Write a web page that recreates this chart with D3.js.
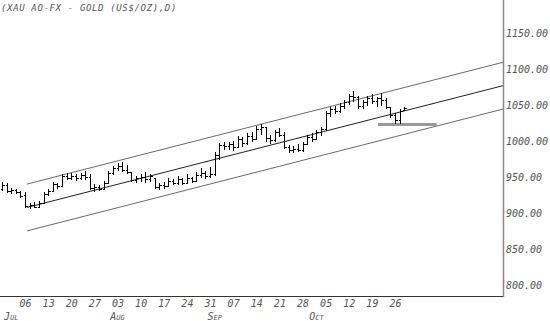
<!DOCTYPE html>
<html><head><meta charset="utf-8">
<script src="https://cdn.jsdelivr.net/npm/d3@7"></script>
<style>
html,body{margin:0;padding:0;background:#fff;}
svg{display:block;}
text{font-family:"DejaVu Sans Mono",monospace;font-style:italic;fill:#555;}
</style></head>
<body>
<script>
// ---- data (trading-day index 0 = 29 Jun 2009) ----
const highs  = [944,942,936,935,932,930,915,916,917,930,935,944,943,955,957,956,955,957,959,955,941,940,945,960,966,970,972,968,958,952,955,958,955,950,942,944,950,948,953,949,955,951,958,963,960,965,986,998,1000,999,1001,1008,1007,1012,1013,1022,1025,1021,1009,1016,1019,1013,996,994,997,999,1010,1012,1016,1020,1043,1048,1050,1054,1058,1066,1070,1063,1058,1064,1066,1062,1067,1061,1047,1040,1046,1048];
const lows   = [932,929,928,927,922,908,907,908,909,914,924,930,934,937,947,947,946,947,947,933,930,932,933,942,954,959,958,955,944,942,944,943,944,934,933,935,937,940,940,940,941,942,944,950,948,950,953,975,989,989,987,992,993,996,1000,1003,1010,1000,997,1000,1006,990,985,984,986,986,996,1000,1003,1008,1015,1035,1038,1040,1046,1051,1055,1045,1045,1050,1052,1048,1050,1046,1033,1024,1024,1043];
const opens  = [935,940,931,933,930,926,911,912,910,915,927,932,941,938,952,950,953,950,954,951,936,937,935,943,956,963,966,961,958,947,949,951,948,950,937,940,938,946,942,948,943,950,945,954,957,952,955,982,995,994,997,992,1004,998,1008,1004,1018,1020,1005,1002,1013,1010,993,988,990,988,997,1007,1004,1013,1017,1040,1045,1043,1050,1055,1063,1062,1049,1055,1060,1057,1060,1058,1048,1037,1030,1044];
const closes = [940,931,933,930,925,911,912,910,915,927,932,941,938,952,950,953,950,954,951,936,937,935,943,956,963,966,961,958,947,949,951,948,953,937,940,938,946,942,948,943,950,945,954,957,952,955,982,995,994,997,992,1004,998,1008,1004,1018,1020,1005,1002,1013,1010,993,988,990,988,997,1007,1004,1013,1017,1040,1045,1043,1050,1055,1063,1062,1049,1055,1060,1057,1060,1058,1048,1037,1030,1043,1047];

const weekTickIdx    = [5,10,15,20,25,30,35,40,45,50,55,60,65,70,75,80,85];
const weekTickLabels = ["06","13","20","27","03","10","17","24","31","07","14","21","28","05","12","19","26"];
const monthIdx    = [2,25,46,68];
const monthLabels = ["Jul","Aug","Sep","Oct"];
const yTicks = [800,850,900,950,1000,1050,1100,1150];

// regression channel (mid-line endpoints, half-width)
const channelIdx = [5.4, 108.35];
const channelMid = [908.6, 1077.8];
const channelHalf = 32.5;

// support marker
const supportIdx = [81.3, 94];
const supportVal = [1024, 1024];

const title = "(XAU AO-FX - GOLD (US$/OZ),D)";

// ---- drawing ----
const W = 550, H = 321;
const axisX = 503, axisY = 296;
const svg = d3.select("body").append("svg").attr("width", W).attr("height", H);

const x = d3.scaleLinear().domain([5, 85]).range([25, 395]);
const y = d3.scaleLinear().domain([800, 1150]).range([285.7, 33.7]);

const clip = svg.append("clipPath").attr("id","c").append("rect")
  .attr("x",0).attr("y",0).attr("width",axisX).attr("height",axisY);

const plot = svg.append("g").attr("clip-path","url(#c)");

// channel lines
[-channelHalf, 0, channelHalf].forEach(off => {
  plot.append("line")
    .attr("x1", x(channelIdx[0])).attr("y1", y(channelMid[0] + off))
    .attr("x2", x(channelIdx[1])).attr("y2", y(channelMid[1] + off))
    .attr("stroke", off === 0 ? "#222" : "#444").attr("stroke-width", off === 0 ? 1 : 0.8);
});

// support line
plot.append("line")
  .attr("x1", x(supportIdx[0])).attr("y1", y(supportVal[0]))
  .attr("x2", x(supportIdx[1])).attr("y2", y(supportVal[1]))
  .attr("stroke", "#999").attr("stroke-width", 3);

// OHLC bars
const bars = plot.append("g").attr("stroke","#000").attr("stroke-width",1).attr("shape-rendering","crispEdges");
highs.forEach((h,i) => {
  const cx = Math.round(x(i)) + 0.5;
  bars.append("line").attr("x1",cx).attr("x2",cx).attr("y1",y(h)).attr("y2",y(lows[i]));
  bars.append("line").attr("x1",cx-2).attr("x2",cx).attr("y1",Math.round(y(opens[i]))+0.5).attr("y2",Math.round(y(opens[i]))+0.5);
  bars.append("line").attr("x1",cx).attr("x2",cx+2).attr("y1",Math.round(y(closes[i]))+0.5).attr("y2",Math.round(y(closes[i]))+0.5);
});

// axes lines
svg.append("line").attr("x1",0).attr("x2",axisX).attr("y1",axisY+0.5).attr("y2",axisY+0.5)
  .attr("stroke","#333").attr("stroke-width",1);
svg.append("line").attr("x1",axisX+0.5).attr("x2",axisX+0.5).attr("y1",0).attr("y2",axisY+1)
  .attr("stroke","#888").attr("stroke-width",1.5);

// y axis labels
const yAxis = d3.axisRight(y).tickValues(yTicks).tickFormat(d3.format(".2f")).tickSize(0).tickPadding(3);
const gy = svg.append("g").attr("transform",`translate(${axisX},0)`).call(yAxis);
gy.select(".domain").remove();
gy.selectAll("text").attr("font-family","DejaVu Sans Mono").attr("font-size",10).attr("fill","#555").style("font-style","italic");

// x axis week labels
const xAxis = d3.axisBottom(x).tickValues(weekTickIdx).tickFormat((d,i)=>weekTickLabels[i]).tickSize(0).tickPadding(4);
const gx = svg.append("g").attr("transform",`translate(0,${axisY})`).call(xAxis);
gx.select(".domain").remove();
gx.selectAll("text").attr("font-family","DejaVu Sans Mono").attr("font-size",10).attr("fill","#555").style("font-style","italic");

// month labels
svg.append("g").selectAll("text").data(monthLabels).join("text")
  .attr("x",(d,i)=>x(monthIdx[i])).attr("y",320)
  .attr("text-anchor","middle").attr("font-size",10)
  .style("font-variant","small-caps")
  .text(d=>d);

// title
svg.append("text").attr("x",1).attr("y",11).attr("font-size",9)
  .attr("letter-spacing",0.65).text(title);
</script>
</body></html>
